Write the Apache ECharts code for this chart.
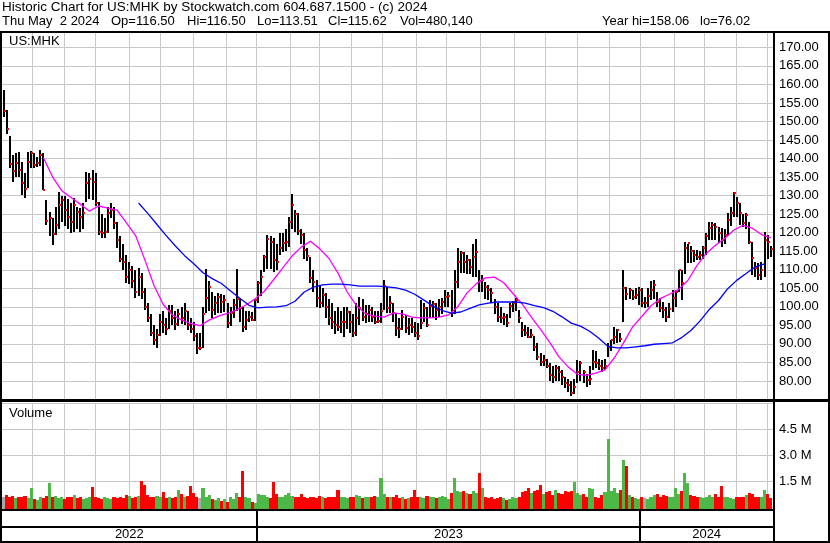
<!DOCTYPE html>
<html><head><meta charset="utf-8">
<script src="https://cdn.jsdelivr.net/npm/echarts@6/dist/echarts.min.js"></script>
<style>html,body{margin:0;padding:0;background:#fff;}#c{width:830px;height:543px;}</style>
</head><body><div id="c"></div>
<script>
const title1 = 'Historic Chart for US:MHK by Stockwatch.com 604.687.1500 - (c) 2024';
const title2Tokens = ['Thu May  2 2024', 'Op=116.50', 'Hi=116.50', 'Lo=113.51', 'Cl=115.62', 'Vol=480,140', 'Year hi=158.06', 'lo=76.02'];
const symbolLabel = 'US:MHK';
const volumeLabel = 'Volume';
const years = ['2022', '2023', '2024'];
const yearStarts = [0, 166, 416];          // trading-day index where each year starts
const monthStarts = [20, 41, 61, 83, 103, 125, 146, 166, 188, 207, 228, 248, 270, 290, 312, 334, 354, 375, 396, 416, 438, 458, 479, 499];
const slotDays = 2;                         // each bar = 2 trading days
const priceMin = 75, priceMax = 175, priceStep = 5;
const volMax = 6e6, volStep = 1.5e6;

const high = [
158.4,153,146,141,141.5,141.7,139,136,141.7,142,
141.5,140.5,142.2,141.5,128.8,125.5,124,127,130.9,130,
130,129,128,129.3,127,126.6,128,136.3,136,136.9,
136,128.2,125,124,127,128,127,123,119,117,
114,112,111,110,110.5,109,105,101,98,95,
94,98,99,97,100.5,100.5,99,99.5,100,101,
99,97,96,93,93,100,110.2,107,104,103,
103.7,103.5,103.2,101,100,102,110.2,102.4,100,99,
99,98.5,102,107,110,114,119.3,119,118.5,117,
120,120,121,124.2,130.4,126,125.3,121,120,116,
113.4,110,107.2,106,105,103.7,102,101,99,100,
99,100,100,99,98,101,102.6,102,100.5,100.5,
100,99,99,101,107.2,105.3,103,101,98.3,97,
99.1,97.8,97,97,96,95.6,101.8,101,100,101.8,
101.5,101,102,102.4,104.5,104,104.5,110,115.8,115,
114.8,114,113,117,118.3,110,108.5,106.7,106,105,
102,101,100,98.3,98,101,101.5,102.5,99.1,96,
95,94.6,94,92,90.2,87.5,87,86,84.9,84,
84.3,84,83,81,80.5,80,80.5,85.7,85.5,83,
82,84,88.4,88,86,85.7,86,90.2,91,94.6,
94,93,109.9,105.3,105,104.5,105,105.3,105,102.6,
105,107,107.2,104,102.4,101.3,100,101,104.5,104.5,
109.9,110,117.5,117,116.5,115.3,115.3,115,116.5,120,
122.8,122.8,122.5,121.5,121.2,121,125.3,127,130.9,129.5,
128,125,125.3,123,117.5,112,111.8,112,120.2,119.5,116.5];

const low = [
151,146.5,137.5,133.6,135,135,130,129.3,132,137.4,
137.5,137.7,138,131.5,122,119,116.6,119.5,121,123,
122,121,120,120.2,121,120.2,121,128.2,129,128.8,
127,119.3,118.5,118.5,120,123.9,121,116,112,110,
106.5,106,105,102.5,103,102,99,96,92,89.5,
89,92,93,92.5,94,95,94,95,95.5,95,
94,93,91,87.3,88.5,89,98.3,99,97,98,
98.3,98.5,98.5,94.3,95,97,99,96,93.2,94,
96,96,96,101,103,109.4,110,110,109.4,110,
114,115,115,116,121,120,119.3,117,113,112.6,
106.5,104,100,99.7,100,97,95,94,92.9,93.5,
93,92,94,93,91.9,92,95,96,95.6,96,
96,95.6,95.8,95.6,99,98.3,98.3,96,92,91.6,
93.7,93,92.4,93,92,91,94,96,94.6,97,
97,96.4,97.2,98,100,100,97.2,98,105,109,
109.1,109,109,108,108,104,104,102,102,101,
98,96,95.6,95,94.6,97,98.6,99,95.6,92,
91.9,91.6,91.6,88,85.7,84,84,83.5,80,79.5,
80,80,79,78,77,76.02,76.5,79.5,80,79.5,
78.4,79,83,83.5,83,82.4,83,86.5,88,90,
90.2,90.5,96,101.8,102,101.8,102,100.5,100,99.7,
100,102,102,100,98.6,97,95.9,97,98.6,100,
104,102,109,112,111.8,112,112.6,112.6,113,114,
118,118,118,117.2,116.1,117,119,122,124.2,124,
122,121.5,121,117,108.6,108,107.2,107.2,108,113,113.51];

const close = [
152.7,148,138.5,136.6,138.7,137,133.4,131.7,139,141.4,
138.2,138.7,140.9,131.5,123.1,124,119.6,122,127.4,128.8,
126.1,124.2,122.8,127.4,125.5,124.2,125.3,133.4,134.4,133.6,
128,120.2,119.9,120.2,125.3,126.1,122.6,118,113,112,
108,110,107,104,108,104,100,97,93,91,
92.5,96,95,94,99,97,95.5,98,97,99,
95,94,92,89,89,98,102.4,105.3,99.1,101,
102.6,101.3,101.8,95.6,98.3,100.5,102,99.7,94.6,96.4,
97.2,96.4,101.8,106.4,108,113.4,118.3,117.5,112.6,112,
115.8,117.2,117.5,122.8,127.4,125,120.4,119.3,115.3,113.7,
107.8,106.7,102.4,101,103.2,100,97,95.9,95.1,94.5,
95.9,96,98.6,96,93,97,99.7,97.2,98,99.1,
97.2,95.9,96.2,99,105.6,99.7,101,98.3,94.3,94,
97.2,94.3,95,94.6,93,92,95.6,99.7,95.1,100.2,
100.8,99.1,100,101.3,102.6,102.9,98.3,106.7,112,114.5,
112,112.5,110.7,113.4,114.8,107,107.2,105.3,104.5,103.7,
100,97.2,97,97.2,95.6,100.2,101,101.8,97,93.7,
92.9,91.9,92.5,89.2,86.5,85.1,85.7,84,81.6,81.1,
83.5,82.4,81,79.5,78.9,76.8,78.4,82.4,84.9,82.4,
80.3,80.5,85.1,84.9,84,83.5,84,89.2,91,91.9,
93.7,91.3,105,103.5,104.5,102.6,103.2,104.5,101,101,
103,104.5,105.9,101.3,99.7,99.1,97.2,99.5,102.4,104,
109.9,106.4,116,117.2,115,114,113.4,114,115.8,119,
121.2,122,121.5,120,118,119.5,123.4,125.3,130.7,128,
125.3,122.6,124.7,117.5,113.1,110.4,108.6,110,118,117.5,115.62];

// volume in millions of shares
const volume = [
0.6,0.7,0.55,0.65,0.5,0.6,0.55,0.62,0.5,1.1,
0.45,0.4,0.55,0.5,0.65,1.4,0.55,0.62,0.5,0.58,
0.45,0.6,0.55,0.7,0.52,0.6,0.45,0.5,0.55,1.15,
0.6,0.5,0.45,0.55,0.5,0.48,0.55,0.5,0.6,0.52,
0.72,0.65,0.5,0.55,0.62,1.5,1.25,0.7,0.6,0.55,
0.65,0.6,0.85,0.5,0.55,0.5,0.6,0.97,0.75,0.55,
0.65,1.2,0.8,0.55,0.5,1.08,0.6,0.7,0.45,0.4,
0.5,0.35,0.45,0.3,0.55,0.45,0.8,0.55,2.1,0.55,
0.5,0.3,0.25,0.75,0.7,0.72,0.6,0.5,1.43,0.75,
0.6,0.55,0.7,0.8,0.65,0.6,0.55,0.75,0.6,0.5,
0.55,0.6,0.5,0.65,0.55,0.5,0.6,0.55,0.6,1.0,
0.55,0.6,0.5,0.6,0.55,0.7,0.62,0.5,0.55,0.6,
0.55,0.65,0.6,1.65,0.75,0.6,0.55,0.6,0.7,0.5,
0.55,0.45,0.5,0.6,1.0,0.6,0.55,0.5,0.65,0.6,
0.55,0.5,0.6,0.65,0.55,0.45,0.8,1.65,0.9,0.85,
0.95,0.8,0.75,0.9,0.8,1.95,1.1,0.6,0.5,0.55,
0.45,0.5,0.55,0.5,0.4,0.45,0.6,0.5,0.55,0.85,
0.95,1.1,0.8,0.9,1.0,1.25,0.75,0.85,0.9,0.7,
1.0,0.8,0.75,0.9,0.85,0.95,1.45,0.8,0.7,0.75,
0.6,1.1,1.05,0.6,0.5,0.7,0.85,3.95,0.9,1.1,
0.8,1.0,2.7,2.35,0.7,0.6,0.5,0.45,0.55,0.5,
0.45,0.55,0.7,0.75,0.6,0.7,0.65,0.55,0.6,1.1,
0.75,0.9,1.95,1.4,0.7,0.65,0.6,0.55,0.5,0.6,
0.7,0.6,0.75,0.55,1.2,0.6,0.55,0.5,0.45,0.55,
0.6,0.55,0.7,0.8,0.75,0.6,0.55,0.6,1.0,0.75,0.5];

const maStep = 3;
const ma50Start = 13;
const ma50 = [140.2,135,131.3,129.5,127.7,125.8,127.2,126.6,126.1,122.7,
119.3,112.8,105.8,100.7,97.8,96.5,95.5,94.9,96.4,97.5,
98.2,99.2,100.5,102.2,104.2,107.3,110.5,113.7,116.1,117.7,
115.7,113.1,109.1,104,100.3,98.1,97.5,97.2,98.3,98.1,
97.2,97,97,97.2,97.8,100,103.7,106.2,107.8,108,
106.5,103.6,100.8,97.2,93.9,90.4,86.5,83.8,81.8,81.5,
82.1,83,86.2,90.2,94.6,97.4,100.3,102.2,103.4,104.7,
107.1,111.2,114.4,116.6,118.4,120.7,122,121.2,119.5,118.6];
const ma200Start = 44;
const ma200 = [128,125.2,122.2,119.2,116.4,113.8,111.6,109.2,107.6,106.3,
104.3,102.3,100.4,99.7,99.9,100,100.3,101.5,104,105.3,
105.9,106.1,106.1,105.9,105.6,105.6,105.6,105.4,105.1,104.5,
103.4,101.8,100.2,99,98.3,98.6,99.6,100.5,101,101.3,
101.3,101.3,101,100.3,99.8,98.8,97.3,95.6,94.8,93.4,
91.5,89.3,88.9,88.9,89.2,89.5,89.9,90.1,90.3,91.7,
93.6,96.2,99.3,101.7,104.9,107.2,109,110.8,111.6];

const FONT = '"Liberation Sans", Arial, sans-serif';
const FONT13 = '13px ' + FONT;
const X_MIN = -0.5, X_MAX = 502;
const slotX = i => i * slotDays + 0.5;

const priceData = close.map((c, i) => [slotX(i), high[i], low[i], c]);
const volData = volume.map((v, i) => [slotX(i), v * 1e6,
  i === 0 ? 0 : (close[i] > close[i - 1] ? 1 : (close[i] < close[i - 1] ? -1 : 0))]);
const maPts = (arr, start) => arr.map((v, i) => [slotX(start + i * maStep), v]);

const chart = echarts.init(document.getElementById('c'), null, { renderer: 'canvas', width: 830, height: 543 });

// crisp vertical rules (month grid, year separators) placed through the x scale
const vRules = (idx, days, color, width) => ({
  type: 'custom', xAxisIndex: idx, yAxisIndex: idx, z: 1, silent: true, clip: false,
  data: days.map(d => [d - 0.5]), encode: { x: 0 },
  renderItem: (params, api) => {
    const cs = params.coordSys;
    const px = api.coord([api.value(0), 0])[0];
    const x0 = Math.round(px - width / 2);
    return { type: 'rect', shape: { x: x0, y: cs.y, width: width, height: cs.height }, style: { fill: color } };
  }
});

const axisLabelStyle = { color: '#000', fontSize: 13, fontFamily: FONT, margin: 6, showMinLabel: false, showMaxLabel: false };

const headerX = [2, 111, 187, 257, 328, 400, 602, 700];

const option = {
  animation: false,
  backgroundColor: '#fff',
  grid: [
    { left: 2, width: 771, top: 28.8, height: 370.7 },
    { left: 2, width: 771, top: 403, height: 104 },
    { left: 2, width: 771, top: 511, height: 30 }
  ],
  xAxis: [0, 1, 2].map(i => ({ type: 'value', gridIndex: i, min: X_MIN, max: X_MAX, show: false })),
  yAxis: [
    { type: 'value', gridIndex: 0, position: 'right', min: priceMin, max: priceMax, interval: priceStep,
      axisLine: { show: false }, axisTick: { show: false },
      axisLabel: Object.assign({ formatter: v => v.toFixed(2) }, axisLabelStyle),
      splitLine: { lineStyle: { color: '#c8c8c8', width: 1 } } },
    { type: 'value', gridIndex: 1, position: 'right', min: 0, max: volMax, interval: volStep,
      axisLine: { show: false }, axisTick: { show: false },
      axisLabel: Object.assign({ formatter: v => (v / 1e6).toFixed(1) + ' M' }, axisLabelStyle),
      splitLine: { lineStyle: { color: '#c8c8c8', width: 1 } } },
    { type: 'value', gridIndex: 2, min: 0, max: 1, show: false }
  ],
  series: [
    vRules(0, monthStarts, '#c8c8c8', 1),
    vRules(1, monthStarts, '#c8c8c8', 1),
    vRules(2, yearStarts.slice(1), '#000', 2),
    {
      type: 'custom', xAxisIndex: 0, yAxisIndex: 0, z: 3, silent: true, clip: true,
      data: priceData, encode: { x: 0, y: [1, 2, 3] },
      renderItem: (params, api) => {
        const x = api.value(0);
        const pH = api.coord([x, api.value(1)]);
        const pL = api.coord([x, api.value(2)]);
        const pC = api.coord([x, api.value(3)]);
        const cx = Math.round(pH[0]);
        return { type: 'group', children: [
          { type: 'rect', shape: { x: cx - 1, y: Math.round(pH[1]), width: 2, height: Math.max(1, Math.round(pL[1] - pH[1])) }, style: { fill: '#000' } },
          { type: 'rect', shape: { x: cx, y: Math.round(pC[1]) - 1, width: 2, height: 2 }, style: { fill: '#ff0000' } }
        ] };
      }
    },
    { type: 'line', xAxisIndex: 0, yAxisIndex: 0, z: 4, silent: true, showSymbol: false, symbol: 'none',
      data: maPts(ma50, ma50Start), lineStyle: { color: '#ff00ff', width: 1.3 } },
    { type: 'line', xAxisIndex: 0, yAxisIndex: 0, z: 4, silent: true, showSymbol: false, symbol: 'none',
      data: maPts(ma200, ma200Start), lineStyle: { color: '#0000ff', width: 1.3 } },
    {
      type: 'custom', xAxisIndex: 1, yAxisIndex: 1, z: 3, silent: true, clip: false,
      data: volData, encode: { x: 0, y: 1 },
      renderItem: (params, api) => {
        const x = api.value(0);
        const top = api.coord([x, api.value(1)]);
        const base = api.coord([x, 0]);
        const w = api.size([slotDays, 0])[0];
        const dir = api.value(2);
        const color = dir > 0 ? '#4cb848' : (dir < 0 ? '#ff0000' : '#a8a8a8');
        const x0 = Math.round(top[0] - w / 2);
        const x1 = Math.round(top[0] + w / 2);
        return { type: 'rect', shape: { x: x0, y: Math.round(top[1]), width: x1 - x0, height: Math.round(base[1]) + 2 - Math.round(top[1]) }, style: { fill: color } };
      }
    },
    {
      type: 'line', xAxisIndex: 2, yAxisIndex: 2, data: [], silent: true,
      markArea: { silent: true, animation: false, itemStyle: { color: 'rgba(0,0,0,0)' },
        label: { show: true, position: 'inside', offset: [0, 8], color: '#000', fontSize: 13, fontFamily: FONT },
        data: years.map((y, i) => [{ name: y, xAxis: yearStarts[i] - 0.5 }, { xAxis: i + 1 < years.length ? yearStarts[i + 1] - 0.5 : X_MAX }]) }
    }
  ],
  graphic: [
    { type: 'rect', z: 100, shape: { x: 0, y: 0, width: 830, height: 31 }, style: { fill: '#fff' } },
    { type: 'text', z: 101, x: 2, y: 7.5, style: { text: title1, font: '13.5px ' + FONT, fill: '#000', verticalAlign: 'middle', align: 'left' } }
  ].concat(title2Tokens.map((t, i) => (
    { type: 'text', z: 101, x: headerX[i], y: 21, style: { text: t, font: FONT13, fill: '#000', verticalAlign: 'middle', align: 'left' } }
  ))).concat([
    { type: 'text', z: 101, x: 9, y: 41.5, style: { text: symbolLabel, font: FONT13, fill: '#000', verticalAlign: 'middle', align: 'left' } },
    { type: 'text', z: 101, x: 9, y: 413, style: { text: volumeLabel, font: FONT13, fill: '#000', verticalAlign: 'middle', align: 'left' } },
    { type: 'rect', z: 100, shape: { x: 0, y: 31, width: 830, height: 2 }, style: { fill: '#000' } },
    { type: 'rect', z: 100, shape: { x: 0, y: 31, width: 2, height: 512 }, style: { fill: '#000' } },
    { type: 'rect', z: 100, shape: { x: 773, y: 31, width: 2, height: 512 }, style: { fill: '#000' } },
    { type: 'rect', z: 100, shape: { x: 828, y: 31, width: 2, height: 512 }, style: { fill: '#000' } },
    { type: 'rect', z: 100, shape: { x: 0, y: 399, width: 830, height: 3 }, style: { fill: '#000' } },
    { type: 'rect', z: 100, shape: { x: 0, y: 509, width: 775, height: 2 }, style: { fill: '#000' } },
    { type: 'rect', z: 100, shape: { x: 0, y: 526, width: 775, height: 2 }, style: { fill: '#000' } },
    { type: 'rect', z: 100, shape: { x: 0, y: 541, width: 830, height: 2 }, style: { fill: '#000' } }
  ])
};
chart.setOption(option);
</script>
</body></html>
